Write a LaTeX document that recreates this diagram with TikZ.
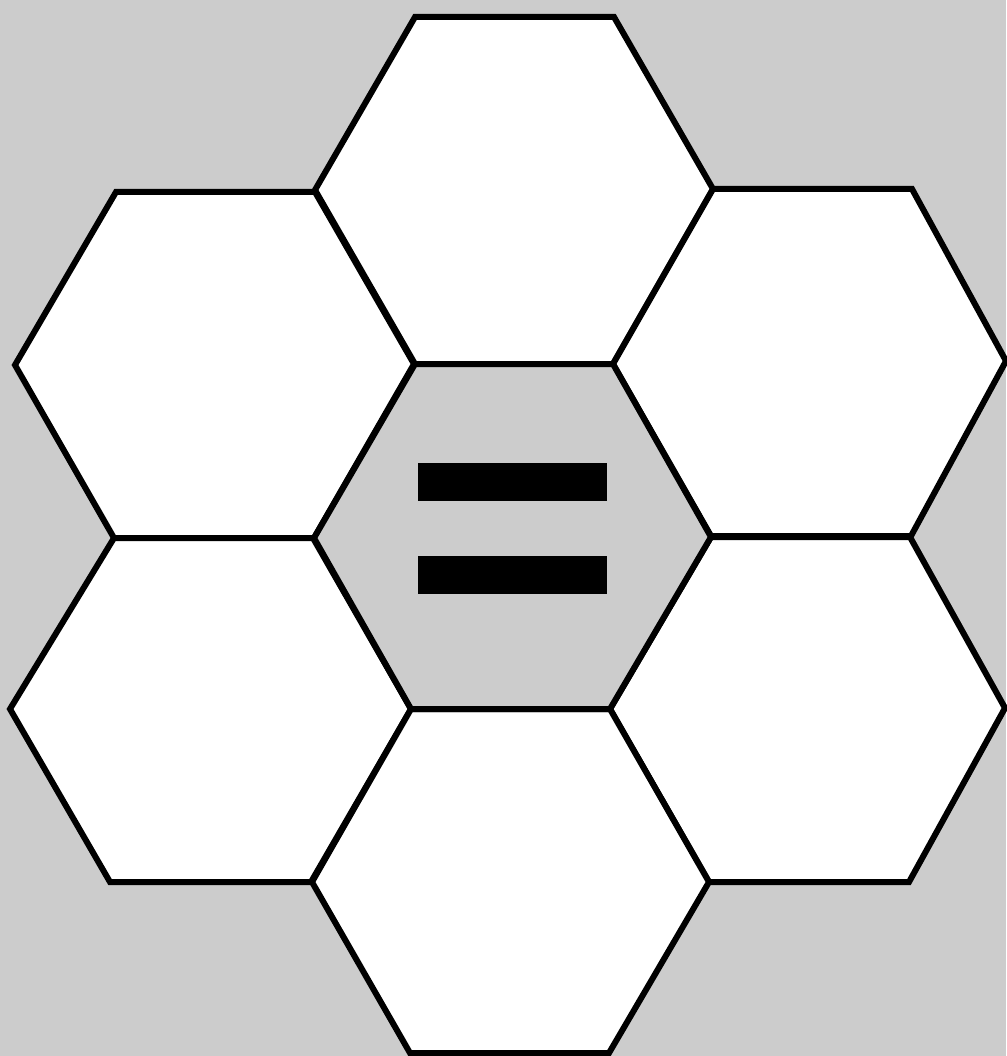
\documentclass[tikz,border=0pt]{standalone}
\begin{document}
\begin{tikzpicture}[x=1pt,y=-1pt,
  cell/.style={draw=black,fill=white,line width=6pt,line join=miter},
  centercell/.style={draw=black,fill=bggray,line width=6pt,line join=miter},
  bar/.style={fill=black}]
\definecolor{bggray}{HTML}{CCCCCC}
\fill[bggray] (0,0) rectangle (1006,1056);
\useasboundingbox (0,0) rectangle (1006,1056);
% surrounding cells
\draw[cell] (415,17) -- (614,17) -- (713,189) -- (613,364) -- (415,364) -- (315,190) -- cycle;
\draw[cell] (116,192) -- (315,192) -- (414,364) -- (314,538) -- (114,538) -- (15,365) -- cycle;
\draw[cell] (713,189) -- (912,189) -- (1006,361) -- (911,536) -- (711,536) -- (613,364) -- cycle;
\draw[cell] (114,538) -- (313,538) -- (411,709) -- (311,882) -- (110,882) -- (10,709) -- cycle;
\draw[cell] (711,537) -- (910,537) -- (1005,708) -- (909,882) -- (709,882) -- (610,709) -- cycle;
\draw[cell] (411,709) -- (610,709) -- (709,882) -- (609,1053) -- (410,1053) -- (312,882) -- cycle;
% center cell
\draw[centercell] (415,364) -- (613,364) -- (711,537) -- (610,709) -- (411,709) -- (314,538) -- cycle;
% equals sign
\fill[bar] (418,463) rectangle (607,501);
\fill[bar] (418,556) rectangle (607,594);
\end{tikzpicture}
\end{document}
